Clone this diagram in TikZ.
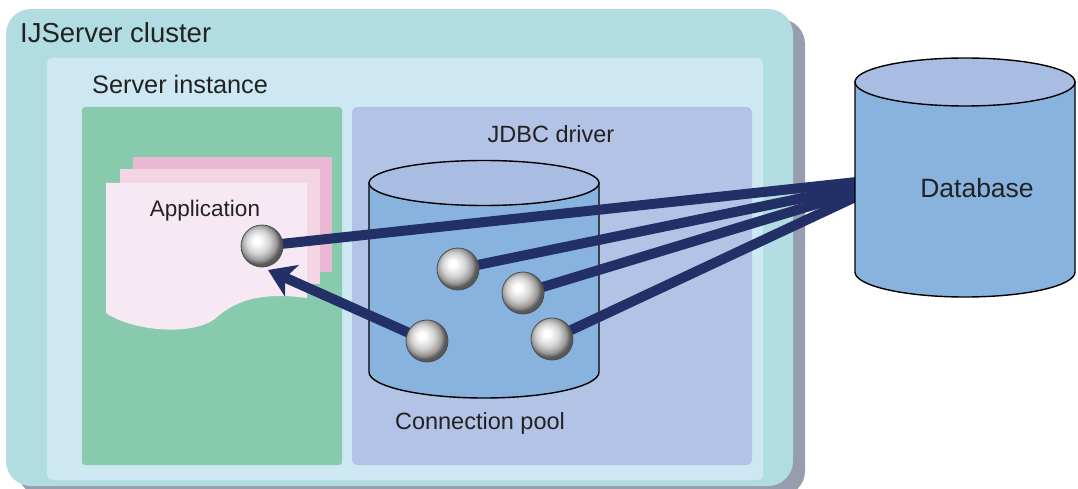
\documentclass[tikz,border=0pt]{standalone}
\usepackage{fontspec}
\setmainfont{Liberation Sans}
\usetikzlibrary{arrows.meta}

\definecolor{clusterfill}{HTML}{B1DCE1}
\definecolor{clustershadow}{HTML}{979CAE}
\definecolor{instfill}{HTML}{CDE8F3}
\definecolor{appfill}{HTML}{88CAAD}
\definecolor{jdbcfill}{HTML}{B2C3E5}
\definecolor{pageback}{HTML}{E9B8D5}
\definecolor{pagemid}{HTML}{F3D5E3}
\definecolor{pagefront}{HTML}{F7E9F3}
\definecolor{cylside}{HTML}{88B3DF}
\definecolor{cyltop}{HTML}{A9BDE3}
\definecolor{wire}{HTML}{233068}
\definecolor{labeltext}{HTML}{222222}

% light metallic sphere for the connection objects
\pgfdeclareradialshading{connsphere}{\pgfpoint{-7bp}{7bp}}{%
  color(0bp)=(white); color(4bp)=(white); color(14bp)=(gray!35);
  color(21bp)=(gray!80); color(25bp)=(black!65); color(50bp)=(black!65)}

\pgfdeclarelayer{back}
\pgfdeclarelayer{wires}
\pgfsetlayers{back,wires,main}

\tikzset{
  lbl/.style={inner sep=0pt, text=labeltext},
  conn/.style={draw=wire, line width=10pt, line cap=butt},
  connball/.style={circle, minimum size=42pt, inner sep=0pt, shading=connsphere,
    draw=black!70, line width=0.8pt},
  cyl/.style={draw=black, line width=1.4pt},
}

\begin{document}
\begin{tikzpicture}[x=1pt,y=-1pt]
\useasboundingbox (0,0) rectangle (1078,489);

\begin{pgfonlayer}{back}
  % cluster with its drop shadow
  \fill[clustershadow, rounded corners=25pt] (18,19) rectangle (805,496);
  \fill[clusterfill, rounded corners=25pt] (6,9) rectangle (793,486);
  % server instance
  \fill[instfill, rounded corners=5pt] (47,58) rectangle (763,480);
  % application area and JDBC driver area
  \fill[appfill, rounded corners=3pt] (82,107) rectangle (342,465);
  \fill[jdbcfill, rounded corners=5pt] (352,107) rectangle (752,465);
  % stacked application documents
  \fill[pageback] (133,157) rectangle (332,272);
  \fill[pagemid] (120,169) rectangle (320,284);
  \fill[pagefront] (106,183) -- (307,183) -- (307,298)
    .. controls (262,292) and (236,300) .. (216,318)
    .. controls (194,336) and (134,332) .. (106,313) -- cycle;
  % connection pool cylinder
  \filldraw[cyl, fill=cylside] (369,183) -- (369,372)
    arc[start angle=180, end angle=360, x radius=115pt, y radius=26pt]
    -- (599,183) -- cycle;
  \filldraw[cyl, fill=cyltop] (484,183) ellipse [x radius=115pt, y radius=22.5pt];
\end{pgfonlayer}

% labels
\node[lbl, anchor=west, font=\fontsize{27.5}{32}\selectfont] (tcluster) at (20,33) {IJServer cluster};
\node[lbl, anchor=west, font=\fontsize{25.3}{30}\selectfont] (tinst) at (92,84) {Server instance};
\node[lbl, font=\fontsize{22.5}{27}\selectfont] (tapp) at (205,211) {Application};
\node[lbl, font=\fontsize{23.5}{28}\selectfont] (tjdbc) at (551,134) {JDBC driver};
\node[lbl, font=\fontsize{23.5}{28}\selectfont] (tpool) at (480,423) {Connection pool};

% database cylinder (drawn above the wire layer, so it hides the wire ends)
\filldraw[cyl, fill=cylside] (855,82) -- (855,272)
  arc[start angle=180, end angle=360, x radius=110pt, y radius=25pt]
  -- (1075,82) -- cycle;
\filldraw[cyl, fill=cyltop] (965,82) ellipse [x radius=110pt, y radius=24pt];
\node[lbl, font=\fontsize{26.5}{31}\selectfont] (db) at (977,188) {Database};

% connection end points on the database side
\coordinate (dbA) at (866,181);
\coordinate (db1) at (866,185);
\coordinate (db2) at (866,189);
\coordinate (db4) at (866,192);
\coordinate (tipA) at (268,270);

% connection centres
\coordinate (cA) at (262,246);
\coordinate (c1) at (458,269);
\coordinate (c2) at (523,293);
\coordinate (c3) at (427,341);
\coordinate (c4) at (552,339);

\begin{pgfonlayer}{wires}
  \draw[conn] (cA) -- (dbA);
  \draw[conn] (c1) -- (db1);
  \draw[conn] (c2) -- (db2);
  \draw[conn] (c4) -- (db4);
  \draw[conn, -{Stealth[length=26pt, width=34pt, inset=7pt]}] (c3) -- (tipA);
\end{pgfonlayer}

% connection objects
\node[connball] (bA) at (cA) {};
\node[connball] (b1) at (c1) {};
\node[connball] (b2) at (c2) {};
\node[connball] (b3) at (c3) {};
\node[connball] (b4) at (c4) {};
\end{tikzpicture}
\end{document}
